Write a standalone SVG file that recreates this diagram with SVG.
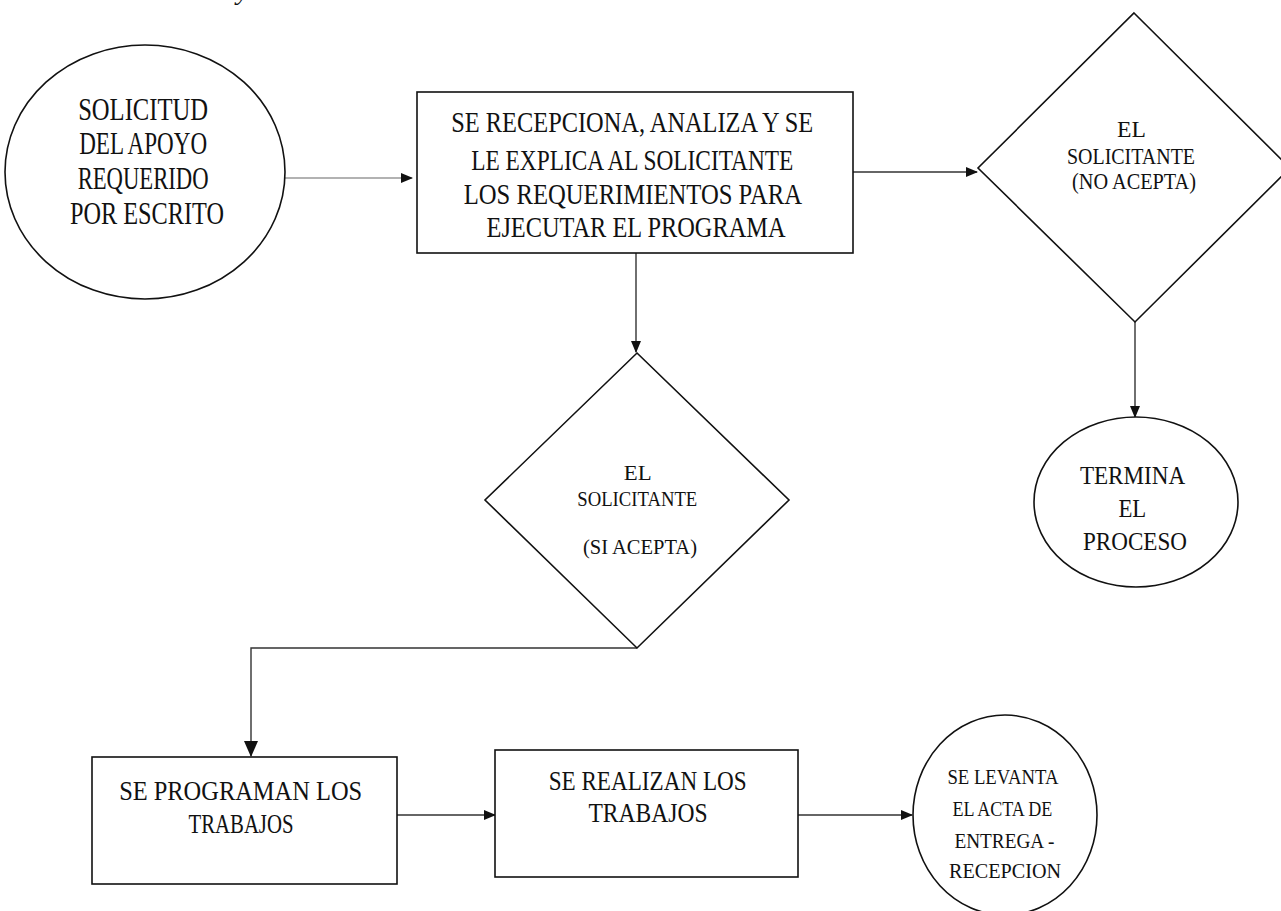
<svg xmlns="http://www.w3.org/2000/svg" width="1281" height="911" viewBox="0 0 1281 911">
  <style>
    .shape { fill: #ffffff; stroke: #111111; stroke-width: 1.6; }
    .link { fill: none; stroke: #333333; stroke-width: 1.4; }
    .faint { stroke: #666666; stroke-width: 1.1; }
    .label { font-family: "Liberation Serif", "Times New Roman", serif; fill: #111111; text-anchor: middle; }
  </style>
  <defs>
    <marker id="arrow" viewBox="0 0 12 12" refX="11" refY="6" markerWidth="12" markerHeight="12" markerUnits="userSpaceOnUse" orient="auto">
      <path d="M0,1 L12,6 L0,11 Z" fill="#111111"/>
    </marker>
    <marker id="arrow-big" viewBox="0 0 16 14" refX="15" refY="7" markerWidth="16" markerHeight="14" markerUnits="userSpaceOnUse" orient="auto">
      <path d="M0,0 L16,7 L0,14 Z" fill="#111111"/>
    </marker>
  </defs>

  <rect width="1281" height="911" fill="#ffffff"/>

  <!-- fragment of a heading cut by the top edge -->
  <text class="label" x="243" y="-1" font-size="28" font-style="italic">y</text>

  <g id="connectors">
    <path class="link faint" d="M285,178 H412" marker-end="url(#arrow)"/>
    <path class="link" d="M853,172 H977" marker-end="url(#arrow)"/>
    <path class="link" d="M636,253 V352" marker-end="url(#arrow)"/>
    <path class="link" d="M1135,322 V417" marker-end="url(#arrow)"/>
    <path class="link" d="M637,648 H251 V756" marker-end="url(#arrow-big)"/>
    <path class="link" d="M397,815 H495" marker-end="url(#arrow)"/>
    <path class="link" d="M798,815 H912" marker-end="url(#arrow)"/>
  </g>

  <g id="solicitud">
    <ellipse class="shape" cx="145" cy="172" rx="140" ry="127"/>
    <text class="label" font-size="31">
      <tspan x="147" y="120" textLength="130" lengthAdjust="spacingAndGlyphs">SOLICITUD</tspan>
      <tspan x="147" y="154" textLength="128" lengthAdjust="spacingAndGlyphs">DEL APOYO</tspan>
      <tspan x="147" y="189" textLength="131" lengthAdjust="spacingAndGlyphs">REQUERIDO</tspan>
      <tspan x="147" y="224" textLength="154" lengthAdjust="spacingAndGlyphs">POR ESCRITO</tspan>
    </text>
  </g>

  <g id="recepciona">
    <rect class="shape" x="417" y="92" width="436" height="161"/>
    <text class="label" font-size="30">
      <tspan x="636" y="132" textLength="362" lengthAdjust="spacingAndGlyphs">SE RECEPCIONA, ANALIZA Y SE</tspan>
      <tspan x="636" y="170" textLength="322" lengthAdjust="spacingAndGlyphs">LE EXPLICA AL SOLICITANTE</tspan>
      <tspan x="636" y="204" textLength="337" lengthAdjust="spacingAndGlyphs">LOS REQUERIMIENTOS PARA</tspan>
      <tspan x="636" y="237" textLength="299" lengthAdjust="spacingAndGlyphs">EJECUTAR EL PROGRAMA</tspan>
    </text>
  </g>

  <g id="no-acepta">
    <polygon class="shape" points="1134,13 1290,168 1135,322 978,168"/>
    <text class="label" font-size="24">
      <tspan x="1134" y="137" textLength="28" lengthAdjust="spacingAndGlyphs">EL</tspan>
      <tspan x="1134" y="164" textLength="128" lengthAdjust="spacingAndGlyphs">SOLICITANTE</tspan>
      <tspan x="1134" y="189" textLength="124" lengthAdjust="spacingAndGlyphs">(NO ACEPTA)</tspan>
    </text>
  </g>

  <g id="termina">
    <ellipse class="shape" cx="1136" cy="502" rx="102" ry="85"/>
    <text class="label" font-size="25">
      <tspan x="1135" y="484" textLength="104" lengthAdjust="spacingAndGlyphs">TERMINA</tspan>
      <tspan x="1135" y="517" textLength="27" lengthAdjust="spacingAndGlyphs">EL</tspan>
      <tspan x="1135" y="550" textLength="104" lengthAdjust="spacingAndGlyphs">PROCESO</tspan>
    </text>
  </g>

  <g id="si-acepta">
    <polygon class="shape" points="637,353 789,500 637,648 485,500"/>
    <text class="label" font-size="22">
      <tspan x="640" y="480" textLength="27" lengthAdjust="spacingAndGlyphs">EL</tspan>
      <tspan x="640" y="506" textLength="120" lengthAdjust="spacingAndGlyphs">SOLICITANTE</tspan>
      <tspan x="640" y="554" textLength="114" lengthAdjust="spacingAndGlyphs">(SI ACEPTA)</tspan>
    </text>
  </g>

  <g id="programan">
    <rect class="shape" x="92" y="757" width="305" height="127"/>
    <text class="label" font-size="27">
      <tspan x="244" y="800" textLength="243" lengthAdjust="spacingAndGlyphs">SE PROGRAMAN LOS</tspan>
      <tspan x="241" y="833" textLength="105" lengthAdjust="spacingAndGlyphs">TRABAJOS</tspan>
    </text>
  </g>

  <g id="realizan">
    <rect class="shape" x="495" y="750" width="303" height="127"/>
    <text class="label" font-size="27">
      <tspan x="651" y="790" textLength="198" lengthAdjust="spacingAndGlyphs">SE REALIZAN LOS</tspan>
      <tspan x="648" y="822" textLength="119" lengthAdjust="spacingAndGlyphs">TRABAJOS</tspan>
    </text>
  </g>

  <g id="acta">
    <ellipse class="shape" cx="1005" cy="815" rx="92" ry="100"/>
    <text class="label" font-size="21">
      <tspan x="1005" y="784" textLength="110" lengthAdjust="spacingAndGlyphs">SE LEVANTA</tspan>
      <tspan x="1005" y="816" textLength="100" lengthAdjust="spacingAndGlyphs">EL ACTA DE</tspan>
      <tspan x="1007" y="848" textLength="100" lengthAdjust="spacingAndGlyphs">ENTREGA -</tspan>
      <tspan x="1005" y="878" textLength="112" lengthAdjust="spacingAndGlyphs">RECEPCION</tspan>
    </text>
  </g>
</svg>
